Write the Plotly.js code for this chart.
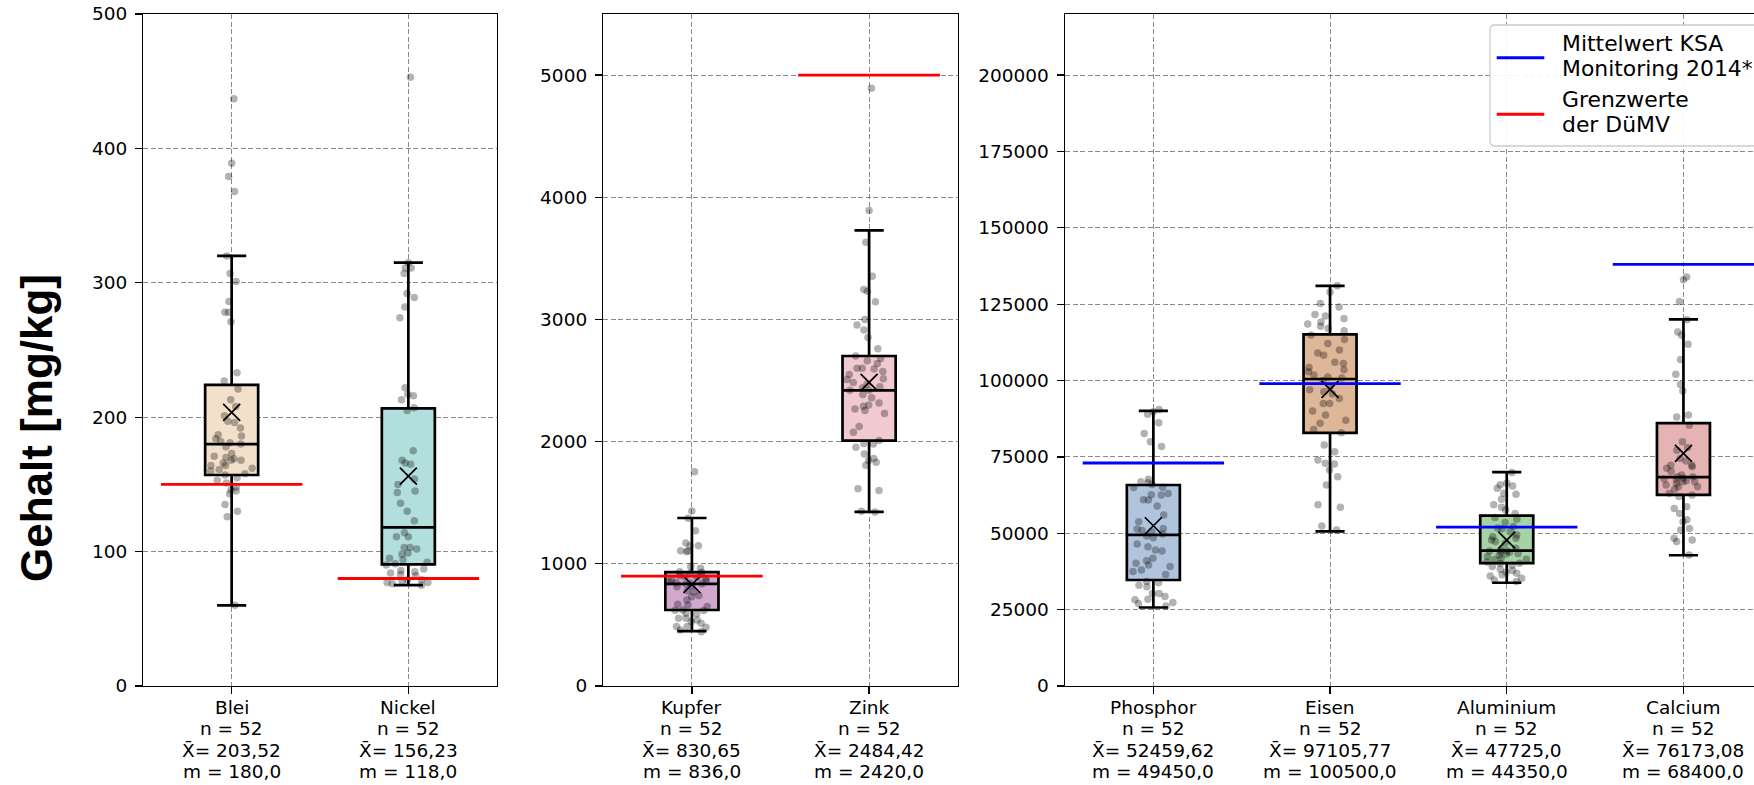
<!DOCTYPE html>
<html><head><meta charset="utf-8">
<script src="https://cdn.plot.ly/plotly-3.0.1.min.js"></script>
<style>html,body{margin:0;padding:0;overflow:hidden;background:#fff}#chart{width:1800px;height:785px}</style>
</head><body><div id="chart"></div>
<script>
// ---------------- data ----------------
const categories = ['Blei', 'Nickel', 'Kupfer', 'Zink', 'Phosphor', 'Eisen', 'Aluminium', 'Calcium'];
const counts = [52, 52, 52, 52, 52, 52, 52, 52];
const means = [203.52, 156.23, 830.65, 2484.42, 52459.62, 97105.77, 47725.0, 76173.08];
const medians = [180, 118, 836, 2420, 49450, 100500, 44350, 68400];
const q1Values = [157, 90.5, 622, 2009, 34700, 82900, 40200, 62600];
const q3Values = [224, 206.6, 932, 2701, 65800, 115100, 55800, 86050];
const whiskerLow = [60, 75, 449, 1425, 25700, 50600, 33800, 42800];
const whiskerHigh = [320, 315, 1375, 3729, 90100, 131000, 70000, 120000];
const dumvLimits = [150, 80, 900, 5000, null, null, null, null];
const ksaMeans = [null, null, null, null, 73000, 99000, 52000, 138000];
const legendLabels = [['Mittelwert KSA', 'Monitoring 2014*'], ['Grenzwerte', 'der DüMV']];

const ptsBlei = [437, 389, 379, 368, 320, 307, 301, 286, 278, 278, 271, 233, 227, 221, 213, 208, 201, 197, 192, 187, 186, 181, 180, 178, 173, 169, 164, 164, 162, 161, 160, 155, 153, 151, 146, 145, 143, 135, 130, 126, 60, 196, 184, 182, 171, 168, 168, 170, 166, 158, 157, 148];
const ptsNickel = [453, 315, 311, 311, 307, 292, 289, 282, 274, 222, 216, 217, 213, 207, 205, 175, 168, 166, 165, 154, 150, 145, 144, 136, 130, 123, 114, 111, 111, 102, 103, 103, 99, 98, 95, 94, 92, 91, 90, 87, 86, 85, 84, 83, 82, 79, 79, 78, 77, 77, 76, 75];
const ptsKupfer = [1754, 1432, 1372, 1271, 1170, 1148, 1148, 1107, 1107, 1099, 977, 963, 936, 930, 922, 915, 905, 895, 890, 880, 868, 860, 854, 845, 841, 837, 835, 820, 813, 780, 772, 740, 731, 704, 670, 663, 650, 620, 622, 617, 590, 595, 555, 554, 540, 527, 513, 481, 486, 486, 459, 445];
const ptsZink = [4892, 3892, 3631, 3354, 3246, 3231, 3145, 3000, 2954, 2914, 2852, 2760, 2700, 2680, 2662, 2640, 2600, 2594, 2575, 2550, 2514, 2508, 2483, 2470, 2440, 2420, 2420, 2450, 2385, 2360, 2317, 2290, 2268, 2255, 2231, 2600, 2123, 2077, 2300, 2009, 1985, 1980, 1954, 1898, 1862, 1846, 1831, 1806, 1615, 1600, 1431, 1425];
const ptsPhosphor = [90500, 89800, 89000, 86200, 82700, 80000, 78400, 67700, 66900, 66500, 65100, 65000, 66000, 62600, 62500, 60900, 58900, 63000, 61000, 53800, 56000, 51600, 51400, 50900, 50500, 49800, 49100, 48500, 45600, 44200, 46500, 44500, 41800, 41000, 40200, 39600, 39100, 38000, 37500, 36500, 34200, 33800, 32500, 33000, 30300, 30300, 29300, 28400, 28200, 27300, 26200, 27000];
const ptsEisen = [131000, 129000, 125200, 124100, 121600, 121100, 120300, 119200, 118500, 117800, 117000, 116300, 114900, 113400, 112100, 110000, 108300, 106000, 105600, 104300, 102900, 101800, 101200, 100000, 98000, 96300, 95600, 94100, 92500, 92500, 88700, 87000, 86000, 82900, 78900, 76700, 74000, 72900, 72700, 70700, 68500, 65800, 59300, 58500, 52400, 51100, 109000, 103500, 100800, 97000, 90000, 84000];
const ptsAluminium = [69900, 66400, 65900, 65500, 64700, 63100, 62800, 61100, 59300, 58500, 57600, 56500, 55200, 54600, 53500, 52200, 51700, 51500, 50500, 49400, 48900, 48400, 47800, 47300, 46700, 44300, 45100, 44200, 43400, 43200, 42400, 41300, 40200, 40100, 39100, 38200, 37800, 36900, 36400, 36000, 35300, 34700, 34200, 44500, 44000, 43800, 42800, 41800, 41500, 40600, 39500, 37200];
const ptsCalcium = [133900, 133000, 125900, 119900, 115900, 114800, 111900, 106900, 102100, 98700, 96600, 88700, 88100, 85400, 80000, 78100, 67200, 77200, 67800, 74500, 73700, 72300, 72300, 71800, 71300, 70200, 69100, 68500, 68500, 68000, 67600, 66900, 66900, 66300, 65800, 65200, 65200, 64400, 63100, 62500, 62000, 58700, 58100, 56500, 54400, 53800, 51600, 51100, 48400, 47800, 47300, 42900];
const samples = [ptsBlei, ptsNickel, ptsKupfer, ptsZink, ptsPhosphor, ptsEisen, ptsAluminium, ptsCalcium];

const yTicks = [[0, 100, 200, 300, 400, 500], [0, 1000, 2000, 3000, 4000, 5000], [0, 25000, 50000, 75000, 100000, 125000, 150000, 175000, 200000]];
const yRanges = [[0, 500], [0, 5500], [0, 220000]];
const panelOf = [0, 0, 1, 1, 2, 2, 2, 2];

// ---------------- style ----------------
const boxColors = ['#F3E0CB', '#B3DEDE', '#D2A8CF', '#F1CAD1', '#B0C4DE', '#DEB799', '#A6D3A6', '#E5B3B3'];
const BLUE = '#0000ff', RED = '#ff0000';
const FONT = 'DejaVu Sans, sans-serif';
const W = 1800, H = 785;
const plotTop = 14, plotBottom = 686;
const panelPx = [[143.3, 496.7], [603.3, 957.7], [1065, 1771.8]];
const labelLineY = [707.3, 728.8, 750.2, 771.7];
const px = v => v / W, py = v => 1 - v / H;

function de(v) { return Number.isInteger(v) ? v + ',0' : String(v).replace('.', ','); }

const posIn = [];
const counter = [0, 0, 0];
categories.forEach((c, i) => { counter[panelOf[i]] += 1; posIn.push(counter[panelOf[i]]); });

const axSuffix = ['', '2', '3'];
const traces = [];

categories.forEach((cat, i) => {
  const p = panelOf[i], sx = axSuffix[p];
  traces.push({
    type: 'box', xaxis: 'x' + sx, yaxis: 'y' + sx,
    x: [posIn[i]], q1: [q1Values[i]], median: [medians[i]], q3: [q3Values[i]],
    lowerfence: [whiskerLow[i]], upperfence: [whiskerHigh[i]],
    width: 0.3, whiskerwidth: 0.55, boxpoints: false,
    fillcolor: boxColors[i], line: {color: '#000', width: 2.7},
    showlegend: false, hoverinfo: 'skip'
  });
  traces.push({
    type: 'box', xaxis: 'x' + sx, yaxis: 'y' + sx,
    x0: posIn[i], y: samples[i],
    width: 0.3, boxpoints: 'all', jitter: 0.95, pointpos: 0,
    fillcolor: 'rgba(0,0,0,0)', line: {color: 'rgba(0,0,0,0)', width: 0},
    marker: {color: 'rgba(0,0,0,0.3)', size: 7.5, line: {width: 0}},
    showlegend: false, hoverinfo: 'skip'
  });
});

[0, 1, 2].forEach(p => {
  const idx = categories.map((c, i) => i).filter(i => panelOf[i] === p);
  traces.push({
    type: 'scatter', mode: 'markers', xaxis: 'x' + axSuffix[p], yaxis: 'y' + axSuffix[p],
    x: idx.map(i => posIn[i]), y: idx.map(i => means[i]),
    marker: {symbol: 'x-thin-open', size: 17, color: '#000', line: {color: '#000', width: 1.7}},
    showlegend: false, hoverinfo: 'skip'
  });
});

function refTrace(values, p, color) {
  const xs = [], ys = [];
  categories.forEach((c, i) => {
    if (panelOf[i] === p && values[i] !== null) {
      xs.push(posIn[i] - 0.4, posIn[i] + 0.4, null);
      ys.push(values[i], values[i], null);
    }
  });
  return {type: 'scatter', mode: 'lines', xaxis: 'x' + axSuffix[p], yaxis: 'y' + axSuffix[p],
    x: xs, y: ys, line: {color: color, width: 2.8}, showlegend: false, hoverinfo: 'skip'};
}
[0, 1, 2].forEach(p => {
  traces.push(refTrace(ksaMeans, p, BLUE));
  traces.push(refTrace(dumvLimits, p, RED));
});

// ---------------- legend (drawn as shapes + annotations) ----------------
const lg = {x0: 1490, x1: 1800, y0: 25, y1: 146, r: 5};
const legendPath = [
  `M${px(lg.x0 + lg.r)},${py(lg.y0)}`, `L${px(lg.x1 - lg.r)},${py(lg.y0)}`,
  `Q${px(lg.x1)},${py(lg.y0)} ${px(lg.x1)},${py(lg.y0 + lg.r)}`, `L${px(lg.x1)},${py(lg.y1 - lg.r)}`,
  `Q${px(lg.x1)},${py(lg.y1)} ${px(lg.x1 - lg.r)},${py(lg.y1)}`, `L${px(lg.x0 + lg.r)},${py(lg.y1)}`,
  `Q${px(lg.x0)},${py(lg.y1)} ${px(lg.x0)},${py(lg.y1 - lg.r)}`, `L${px(lg.x0)},${py(lg.y0 + lg.r)}`,
  `Q${px(lg.x0)},${py(lg.y0)} ${px(lg.x0 + lg.r)},${py(lg.y0)}`, 'Z'].join(' ');
const legendColors = [BLUE, RED];
const legendLineY = [57.7, 114.3];
const legendTextY = [[43.3, 68.3], [100, 124.3]];
const shapes = [{type: 'path', xref: 'paper', yref: 'paper', path: legendPath, layer: 'above',
  fillcolor: 'rgba(255,255,255,0.9)', line: {color: '#cccccc', width: 1.3}}];
const annotations = [{
  text: '<b>Gehalt [mg/kg]</b>', xref: 'paper', yref: 'paper',
  x: px(36), y: py(428), xanchor: 'center', yanchor: 'middle', textangle: -90,
  showarrow: false, font: {family: 'Liberation Sans, Arial, sans-serif', size: 44, color: '#000'}
}];
legendLabels.forEach((lines, k) => {
  shapes.push({type: 'line', xref: 'paper', yref: 'paper', layer: 'above',
    x0: px(1496.7), x1: px(1544.3), y0: py(legendLineY[k]), y1: py(legendLineY[k]),
    line: {color: legendColors[k], width: 3}});
  lines.forEach((t, j) => annotations.push({text: t, xref: 'paper', yref: 'paper',
    x: px(1560), y: py(legendTextY[k][j]), xanchor: 'left', yanchor: 'middle', showarrow: false,
    font: {family: FONT, size: 21.9, color: '#000'}}));
});

// category labels below each x axis (one annotation per text line)
categories.forEach((cat, i) => {
  const lines = [cat, `n = ${counts[i]}`, `X\u0304= ${de(means[i])}`, `m = ${de(medians[i])}`];
  lines.forEach((t, j) => annotations.push({text: t, xref: 'x' + axSuffix[panelOf[i]], yref: 'paper',
    x: posIn[i], y: py(labelLineY[j]), xanchor: 'center', yanchor: 'middle', showarrow: false,
    font: {family: FONT, size: 18.5, color: '#000'}}));
});

const layout = {
  width: W, height: H, margin: {l: 0, r: 0, t: 0, b: 0},
  paper_bgcolor: '#fff', plot_bgcolor: '#fff',
  boxmode: 'overlay', showlegend: false,
  font: {family: FONT, size: 18.5, color: '#000'},
  shapes: shapes, annotations: annotations
};

[0, 1, 2].forEach(p => {
  const sx = axSuffix[p];
  const idx = categories.map((c, i) => i).filter(i => panelOf[i] === p);
  const n = idx.length;
  layout['xaxis' + sx] = {
    domain: [px(panelPx[p][0]), px(panelPx[p][1])], anchor: 'y' + sx,
    range: [0.5, n + 0.5], tickvals: idx.map(i => posIn[i]), showticklabels: false,
    showgrid: true, gridcolor: '#8a8a8a', gridwidth: 1, griddash: '5px,2.5px',
    showline: true, mirror: true, linecolor: '#000', linewidth: 1.4,
    ticks: 'outside', ticklen: 7, tickwidth: 1.3, tickcolor: '#000', zeroline: false, fixedrange: true
  };
  layout['yaxis' + sx] = {
    domain: [(H - plotBottom) / H, (H - plotTop) / H], anchor: 'x' + sx,
    range: yRanges[p], tickvals: yTicks[p], ticktext: yTicks[p].map(String),
    tickfont: {family: FONT, size: 18.5, color: '#000'},
    showgrid: true, gridcolor: '#8a8a8a', gridwidth: 1, griddash: '5px,2.5px',
    showline: true, mirror: true, linecolor: '#000', linewidth: 1.4,
    ticks: 'outside', ticklen: 7, tickwidth: 1.3, tickcolor: '#000', zeroline: false, fixedrange: true,
    ticklabelstandoff: 4
  };
});

Plotly.newPlot('chart', traces, layout, {staticPlot: true, displayModeBar: false});
</script>
</body></html>
